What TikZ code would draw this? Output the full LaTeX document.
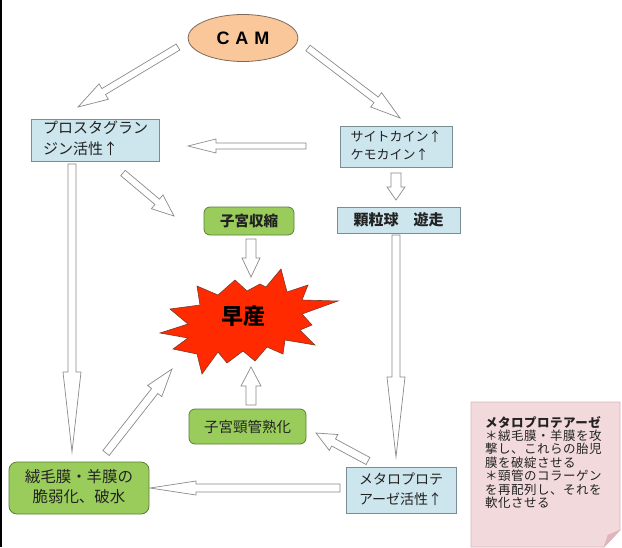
\documentclass[tikz,border=0pt]{standalone}
\usepackage{fontspec}
\setmainfont{Noto Sans CJK JP}
\newfontfamily\latinfont{Liberation Sans}
\newfontfamily\notefont[LetterSpace=4]{Noto Sans CJK JP}
\usetikzlibrary{calc,shapes.geometric}
\definecolor{bluefill}{HTML}{CDE6EE}
\definecolor{blueline}{HTML}{7A8C94}
\definecolor{greenfill}{HTML}{9ACC5C}
\definecolor{greenline}{HTML}{5A7F37}
\definecolor{peach}{HTML}{F9C79A}
\definecolor{peachline}{HTML}{7F6A5A}
\definecolor{burst}{HTML}{FF2A00}
\definecolor{burstline}{HTML}{7A3A2A}
\definecolor{notefill}{HTML}{F2DADC}
\definecolor{noteline}{HTML}{D8B6BA}
\definecolor{notefold}{HTML}{E2B5BC}
\definecolor{arrline}{HTML}{8A8A8A}
\definecolor{txt}{HTML}{222222}
\tikzset{
  bluebox/.style={draw=blueline, fill=bluefill, line width=0.8pt, inner sep=0pt, text=txt},
  greenbox/.style={draw=greenline, fill=greenfill, line width=0.8pt, rounded corners=6pt, inner sep=0pt, text=txt},
  barrowstyle/.style={draw=arrline, fill=white, line width=0.7pt, line join=miter},
}
\newcommand{\barr}[5]{%
  \coordinate (hb) at ($(#2)!#5pt!(#1)$);
  \draw[barrowstyle] ($(#1)!#3pt!90:(#2)$) -- ($(hb)!#3pt!-90:(#1)$) -- ($(hb)!#4pt!-90:(#1)$) -- (#2)
    -- ($(hb)!#4pt!90:(#1)$) -- ($(hb)!#3pt!90:(#1)$) -- ($(#1)!#3pt!-90:(#2)$) -- cycle;}
\begin{document}
\begin{tikzpicture}[x=1pt,y=-1pt]
\useasboundingbox (0,0) rectangle (622,547);
\fill[white] (0,0) rectangle (622,547);
\fill[black] (0,0) rectangle (2,547);

% CAM ellipse
\node[draw=peachline, fill=peach, line width=0.8pt, ellipse, minimum width=110pt, minimum height=47pt, inner sep=0pt] (cam) at (243,38)
  {\latinfont\bfseries\fontsize{18}{20}\selectfont C\hspace{6pt}A\hspace{6pt}M};

% boxes
\node[bluebox, minimum width=128pt, minimum height=42pt] (pg) at (95.5,140)
  {\fontsize{15}{21}\selectfont\begin{tabular}{@{}l@{}}プロスタグラン\\ジン活性↑\end{tabular}};
\node[bluebox, minimum width=112pt, minimum height=41pt] (cyto) at (396,146.5)
  {\fontsize{13}{18}\selectfont\begin{tabular}{@{}l@{}}サイトカイン↑\\ケモカイン↑\end{tabular}};
\node[greenbox, minimum width=90pt, minimum height=28pt] (uc) at (249,221)
  {\fontsize{14.5}{16}\selectfont\bfseries 子宮収縮};
\node[bluebox, minimum width=123pt, minimum height=26pt] (gran) at (398.5,220)
  {\fontsize{15}{16}\selectfont\bfseries 顆粒球　遊走};
\node[greenbox, minimum width=117pt, minimum height=35pt] (cerv) at (247.5,426.5)
  {\fontsize{14.5}{16}\selectfont 子宮頸管熟化};
\node[greenbox, rounded corners=8pt, minimum width=140pt, minimum height=52pt] (memb) at (79,488)
  {\fontsize{15.5}{20}\selectfont\begin{tabular}{@{}c@{}}絨毛膜・羊膜の\\脆弱化、破水\end{tabular}};
\node[bluebox, minimum width=110pt, minimum height=46pt] (mmp) at (401,490)
  {\fontsize{14}{20}\selectfont\begin{tabular}{@{}l@{}}メタロプロテ\\アーゼ活性↑\end{tabular}};

% starburst
\draw[fill=burst, draw=burstline, line width=0.6pt, line join=miter]
  (281,269) -- (287,292) -- (308,285) -- (302,300) -- (338,301) -- (302,314) -- (312,325) -- (300,330)
  -- (315,345) -- (285,340) -- (283,354) -- (267,347) -- (255,361) -- (243,351) -- (227,363) -- (218,352)
  -- (202,374) -- (197,354) -- (173,349) -- (188,338) -- (160,333) -- (188,324) -- (170,309) -- (200,305)
  -- (197,286) -- (218,295) -- (235,280) -- (247,291) -- (260,284) -- (266,287) -- cycle;
\node[inner sep=0pt] (birth) at (243,316) {\fontsize{22}{24}\selectfont\bfseries 早産};

% note
\draw[fill=notefill, draw=noteline, line width=0.6pt] (471,402) -- (620,402) -- (620,530) -- (604,547) -- (471,547) -- cycle;
\fill[notefold, draw=noteline, line width=0.4pt] (620,530) -- (604,547) -- (608,535) -- cycle;
\node[anchor=north west, inner sep=0pt, text=txt, align=left, font=\notefont\fontsize{12.5}{13.4}\selectfont] (note) at (485,416)
  {\textbf{メタロプロテアーゼ}\\＊絨毛膜・羊膜を攻\\撃し、これらの胎児\\膜を破綻させる\\＊頸管のコラーゲン\\を再配列し、それを\\軟化させる};

% arrow coordinates
\coordinate (a1s) at (178,47);  \coordinate (a1e) at (78,107);
\coordinate (a2s) at (308,48);  \coordinate (a2e) at (400,118);
\coordinate (a3s) at (306,146); \coordinate (a3e) at (188,146);
\coordinate (a4s) at (396,173); \coordinate (a4e) at (396,200);
\coordinate (a5s) at (123,173); \coordinate (a5e) at (174,216);
\coordinate (a6s) at (72,164);  \coordinate (a6e) at (72,452);
\coordinate (a7s) at (251,239); \coordinate (a7e) at (251,277);
\coordinate (a8s) at (396,235); \coordinate (a8e) at (396,457);
\coordinate (a9s) at (251,405); \coordinate (a9e) at (251,367);
\coordinate (a10s) at (106,453); \coordinate (a10e) at (172,369);
\coordinate (a11s) at (368,461); \coordinate (a11e) at (316,433);
\coordinate (a12s) at (340,488); \coordinate (a12e) at (150,488);

\barr{a1s}{a1e}{3.5}{9}{30}
\barr{a2s}{a2e}{3.5}{9}{30}
\barr{a3s}{a3e}{3}{7}{28}
\barr{a4s}{a4e}{5}{9}{13}
\barr{a5s}{a5e}{3.5}{9}{22}
\barr{a6s}{a6e}{4}{9}{80}
\barr{a7s}{a7e}{5}{9}{19}
\barr{a8s}{a8e}{4}{9}{80}
\barr{a9s}{a9e}{5}{10}{19}
\barr{a10s}{a10e}{4}{9}{28}
\barr{a11s}{a11e}{4}{9}{20}
\barr{a12s}{a12e}{4}{7}{46}
\end{tikzpicture}
\end{document}
